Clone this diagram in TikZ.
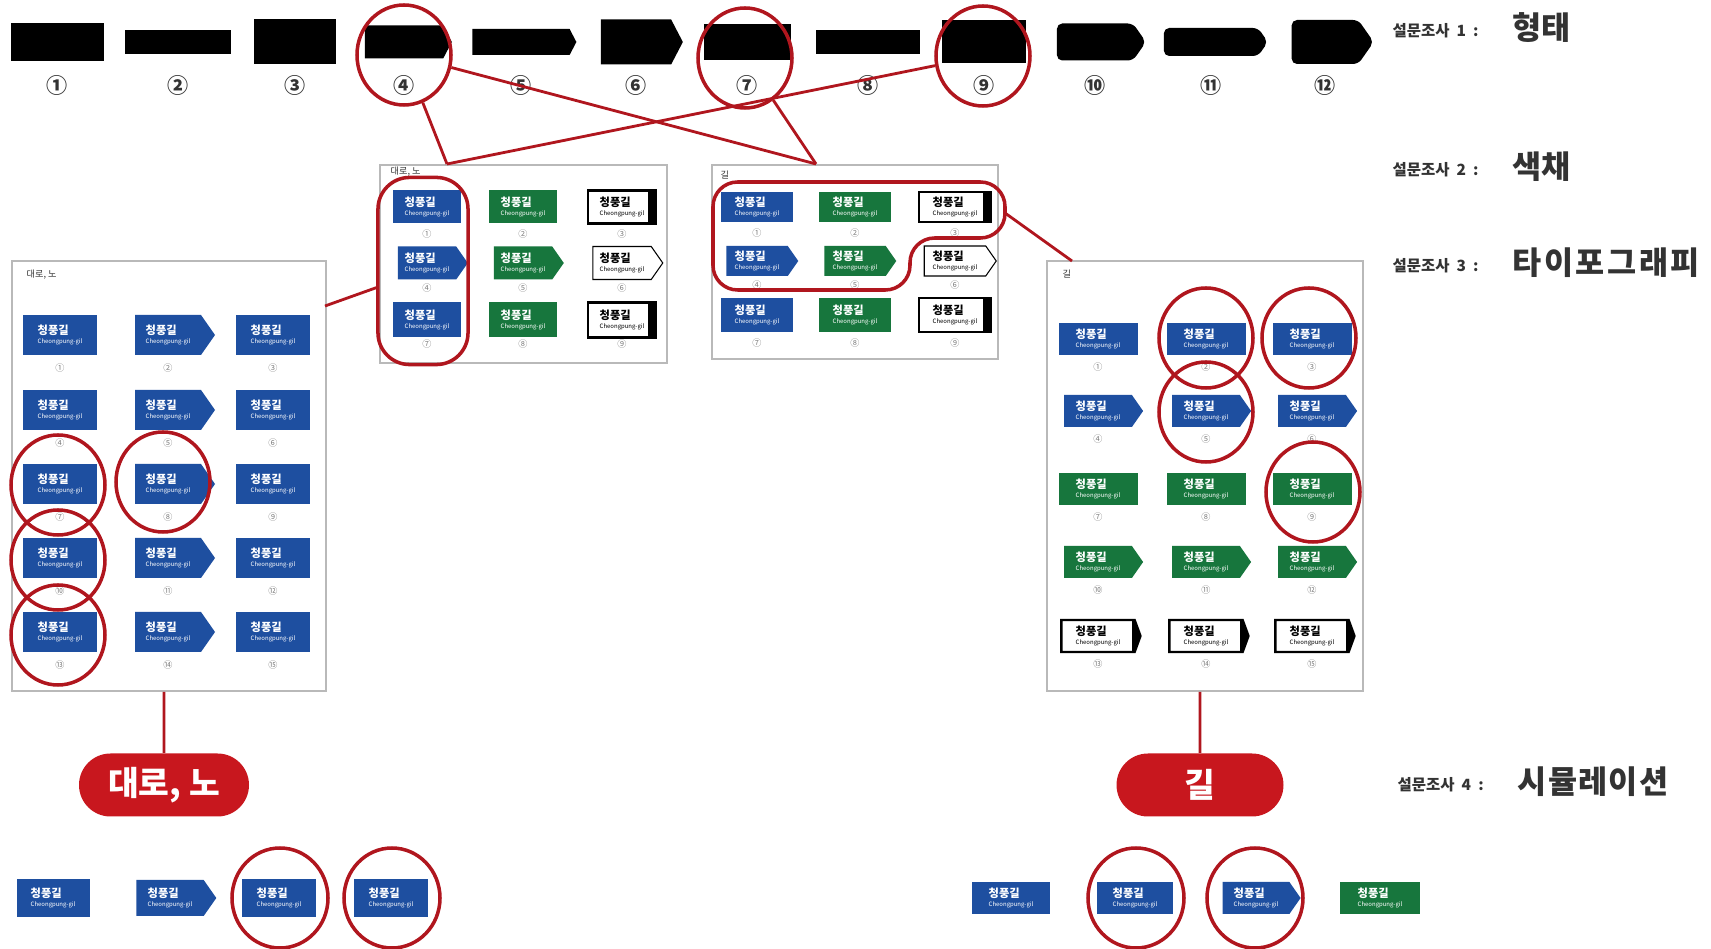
\documentclass[tikz,border=0pt]{standalone}
\usepackage{fontspec}
\setmainfont{Noto Sans CJK KR}
\usetikzlibrary{shapes.geometric}
\usetikzlibrary{shapes.symbols}
\usetikzlibrary{shapes.misc}

\definecolor{ringred}{HTML}{B0161E}
\definecolor{pillred}{HTML}{C8171E}
\definecolor{signblue}{HTML}{1E4FA0}
\definecolor{signgreen}{HTML}{17763D}
\definecolor{inkgray}{HTML}{333333}

\newcommand{\cnum}[1]{\ifcase#1\or ①\or ②\or ③\or ④\or ⑤\or ⑥\or ⑦\or ⑧\or ⑨\or ⑩\or ⑪\or ⑫\or ⑬\or ⑭\or ⑮\fi}
\newcommand{\signtxt}{\textbf{청풍길}\\[-0.8pt]{\fontsize{1.7}{1.9}\selectfont Cheongpung-gil}}

\tikzset{
  sz/.style 2 args={minimum width=#1*0.01cm, minimum height=#2*0.01cm},
  form/.style={fill=black, inner sep=0pt},
  formpt/.style={form, shape=signal, signal to=east, signal pointer angle=125},
  formrd/.style={formpt, signal pointer angle=110, rounded corners=1.5pt},
  sign/.style={inner sep=0.6pt, align=left, text=white, font=\fontsize{3.2}{3.4}\selectfont},
  bluesign/.style={fill=signblue},
  greensign/.style={fill=signgreen},
  arrowsign/.style={shape=signal, signal to=east, signal pointer angle=110},
  bluearrow/.style={bluesign, arrowsign},
  greenarrow/.style={greensign, arrowsign},
  band/.style={path picture={\fill[black] ([xshift=-2.4pt]path picture bounding box.north east) rectangle (path picture bounding box.south east);}},
  whitesign/.style={fill=white, draw=black, line width=0.7pt, text=black, band},
  whitearrow/.style={fill=white, draw=black, line width=0.3pt, text=black, arrowsign},
  whiteend/.style={whitesign, arrowsign, signal pointer angle=140},
  num/.style={text=gray, font=\fontsize{2.6}{3}\selectfont, inner sep=0pt},
  bignum/.style={text=inkgray, font=\fontsize{6}{7}\selectfont\bfseries, inner sep=0pt},
  panel/.style={draw=gray!55, line width=0.5pt, fill=white, anchor=north west, inner sep=0pt},
  panellabel/.style={anchor=west, text=inkgray, font=\fontsize{2.6}{3}\selectfont, inner sep=0pt},
  ring/.style={ellipse, draw=ringred, line width=1pt, inner sep=0pt},
  ringbox/.style={rectangle, draw=ringred, line width=1pt, rounded corners=9pt},
  link/.style={ringred, line width=0.8pt},
  pill/.style={rounded rectangle, fill=pillred, text=white, font=\fontsize{9.5}{11}\selectfont\bfseries, inner sep=0pt},
  survey/.style={anchor=west, text=inkgray, inner sep=0pt, font=\fontsize{4.4}{5}\selectfont\bfseries},
  surveybig/.style={anchor=west, text=inkgray, inner sep=0pt, font=\fontsize{9}{10}\selectfont\bfseries},
}

\begin{document}
\begin{tikzpicture}[x=0.01cm,y=-0.01cm]
\useasboundingbox (0,0) rectangle (1711,949);
\clip (0,0) rectangle (1711,949);

\foreach \cx/\w/\h/\fs [count=\ii] in {57/93/38/form,178/106/24/form,295/82/45/form,404/87/33/formpt,521/104/26/formpt,636/82/45/formpt,747/87/36/form,868/104/24/form,984/84/43/form,1095/89/37/formrd,1211/104/28/formrd,1325/82/44/formrd}{
  \node[\fs, sz={\w}{\h}] (f\ii) at (\cx,42) {};
  \node[bignum] (n\ii) at (\cx,85) {\cnum{\ii}};
}

\node[survey] (s1) at (1392,31) {설문조사 ~1~ :};
\node[surveybig] (s1b) at (1512,28) {형태};
\node[survey] (s2) at (1392,170) {설문조사 ~2~ :};
\node[surveybig] (s2b) at (1512,167) {색채};
\node[survey] (s3) at (1392,266) {설문조사 ~3~ :};
\node[surveybig] (s3b) at (1512,263) {\addfontfeature{LetterSpace=8}타이포그래피};
\node[survey] (s4) at (1397,785) {설문조사 ~4~ :};
\node[surveybig] (s4b) at (1517,782) {\addfontfeature{LetterSpace=4}시뮬레이션};

\node[panel, sz={287}{198}] (boxA) at (379,164) {};
\node[panel, sz={286}{194}] (boxB) at (711,164) {};
\node[panel, sz={314}{430}] (boxC) at (11,260) {};
\node[panel, sz={316}{430}] (boxD) at (1046,260) {};
\node[panellabel] (la) at (390,172) {대로, 노};
\node[panellabel] (lb) at (720,175) {길};
\node[panellabel] (lc) at (26,275) {대로, 노};
\node[panellabel] (ld) at (1062,274) {길};

\foreach \x/\rs/\as [count=\cc] in {427/bluesign/bluearrow,523/greensign/greenarrow,622/whitesign/whitearrow}{
  \node[sign,sz={68}{33},\rs] (a1\cc) at (\x,207) {\signtxt};
  \node[sign,sz={70}{33},\as] (a2\cc) at (\x,263) {\signtxt};
  \node[sign,sz={68}{35},\rs] (a3\cc) at (\x,320) {\signtxt};
  \pgfmathtruncatemacro\nn{\cc+3}
  \pgfmathtruncatemacro\mm{\cc+6}
  \node[num] (na1\cc) at (\x,234) {\cnum{\cc}};
  \node[num] (na2\cc) at (\x,288) {\cnum{\nn}};
  \node[num] (na3\cc) at (\x,344) {\cnum{\mm}};
}

\foreach \x/\rs/\as [count=\cc] in {757/bluesign/bluearrow,855/greensign/greenarrow,955/whitesign/whitearrow}{
  \node[sign,sz={72}{30},\rs] (b1\cc) at (\x,207) {\signtxt};
  \node[sign,sz={72}{30},\as] (b2\cc) at (\x,261) {\signtxt};
  \node[sign,sz={72}{34},\rs] (b3\cc) at (\x,315) {\signtxt};
  \pgfmathtruncatemacro\nn{\cc+3}
  \pgfmathtruncatemacro\mm{\cc+6}
  \node[num] (nb1\cc) at (\x,233) {\cnum{\cc}};
  \node[num] (nb2\cc) at (\x,285) {\cnum{\nn}};
  \node[num] (nb3\cc) at (\x,343) {\cnum{\mm}};
}

\foreach \y [count=\rr] in {335,410,484,558,632}{
  \pgfmathtruncatemacro\nn{3*\rr-2}
  \node[sign,sz={74}{40},bluesign] (c\rr1) at (60,\y) {\signtxt};
  \node[sign,sz={80}{40},bluearrow] (c\rr2) at (168,\y) {\signtxt};
  \node[sign,sz={74}{40},bluesign] (c\rr3) at (273,\y) {\signtxt};
  \foreach \x [count=\cc] in {60,168,273}{
    \pgfmathtruncatemacro\mm{\nn+\cc-1}
    \node[num] (nc\rr\cc) at (\x,\y+33) {\cnum{\mm}};
  }
}

\foreach \y/\s [count=\rr] in {339/bluesign,411/bluearrow,489/greensign,562/greenarrow,636/whiteend}{
  \foreach \x [count=\cc] in {1098,1206,1312}{
    \pgfmathtruncatemacro\mm{3*\rr-3+\cc}
    \node[sign,sz={79}{32},\s] (d\rr\cc) at (\x,\y) {\signtxt};
    \node[num] (nd\rr\cc) at (\x,\y+28) {\cnum{\mm}};
  }
}

\node[sign,sz={73}{38},bluesign] (e1) at (53,898) {\signtxt};
\node[sign,sz={80}{36},bluearrow] (e2) at (170,898) {\signtxt};
\node[sign,sz={74}{38},bluesign] (e3) at (279,898) {\signtxt};
\node[sign,sz={74}{38},bluesign] (e4) at (391,898) {\signtxt};
\node[sign,sz={78}{32},bluesign] (g1) at (1011,898) {\signtxt};
\node[sign,sz={76}{32},bluesign] (g2) at (1135,898) {\signtxt};
\node[sign,sz={78}{32},bluearrow] (g3) at (1256,898) {\signtxt};
\node[sign,sz={80}{32},greensign] (g4) at (1380,898) {\signtxt};

\node[pill, sz={170}{63}] (pillL) at (164,785) {대로, 노};
\node[pill, sz={167}{63}] (pillR) at (1200,785) {길};

\node[ring, sz={94}{100}] (r4) at (404,55) {};
\node[ring, sz={94}{100}] (r7) at (745,58) {};
\node[ring, sz={94}{100}] (r9) at (983,56) {};
\node[ringbox, minimum width=0.9cm, minimum height=1.87cm] (ovalA) at (423,271) {};
\draw[ringred, line width=1pt, rounded corners=7pt] (713,182) -- (1005,182) -- (1005,238) -- (910,238) -- (910,290) -- (713,290) -- cycle;
\node[ring, sz={94}{100}] (rc1) at (58,485) {};
\node[ring, sz={94}{100}] (rc2) at (163,482) {};
\node[ring, sz={94}{100}] (rc3) at (58,560) {};
\node[ring, sz={94}{100}] (rc4) at (58,635) {};
\node[ring, sz={94}{100}] (rd1) at (1206,338) {};
\node[ring, sz={94}{100}] (rd2) at (1309,338) {};
\node[ring, sz={94}{100}] (rd3) at (1206,412) {};
\node[ring, sz={94}{100}] (rd4) at (1313,492) {};
\node[ring, sz={96}{100}] (re3) at (280,898) {};
\node[ring, sz={96}{100}] (re4) at (392,898) {};
\node[ring, sz={96}{100}] (rg2) at (1136,898) {};
\node[ring, sz={96}{100}] (rg3) at (1255,898) {};

\coordinate (apexA) at (447,164);
\coordinate (apexB) at (816,164);
\coordinate (jointC) at (325,306);
\coordinate (outB) at (1005,213);
\coordinate (jointD) at (1072,261);
\draw[link] (r4) -- (apexA);
\draw[link] (r4) -- (apexB);
\draw[link] (r7) -- (apexB);
\draw[link] (r9) -- (apexA);
\draw[link] (ovalA) -- (jointC);
\draw[link] (outB) -- (jointD);
\draw[link] (pillL |- boxC.south) -- (pillL);
\draw[link] (pillR |- boxD.south) -- (pillR);
\end{tikzpicture}
\end{document}
